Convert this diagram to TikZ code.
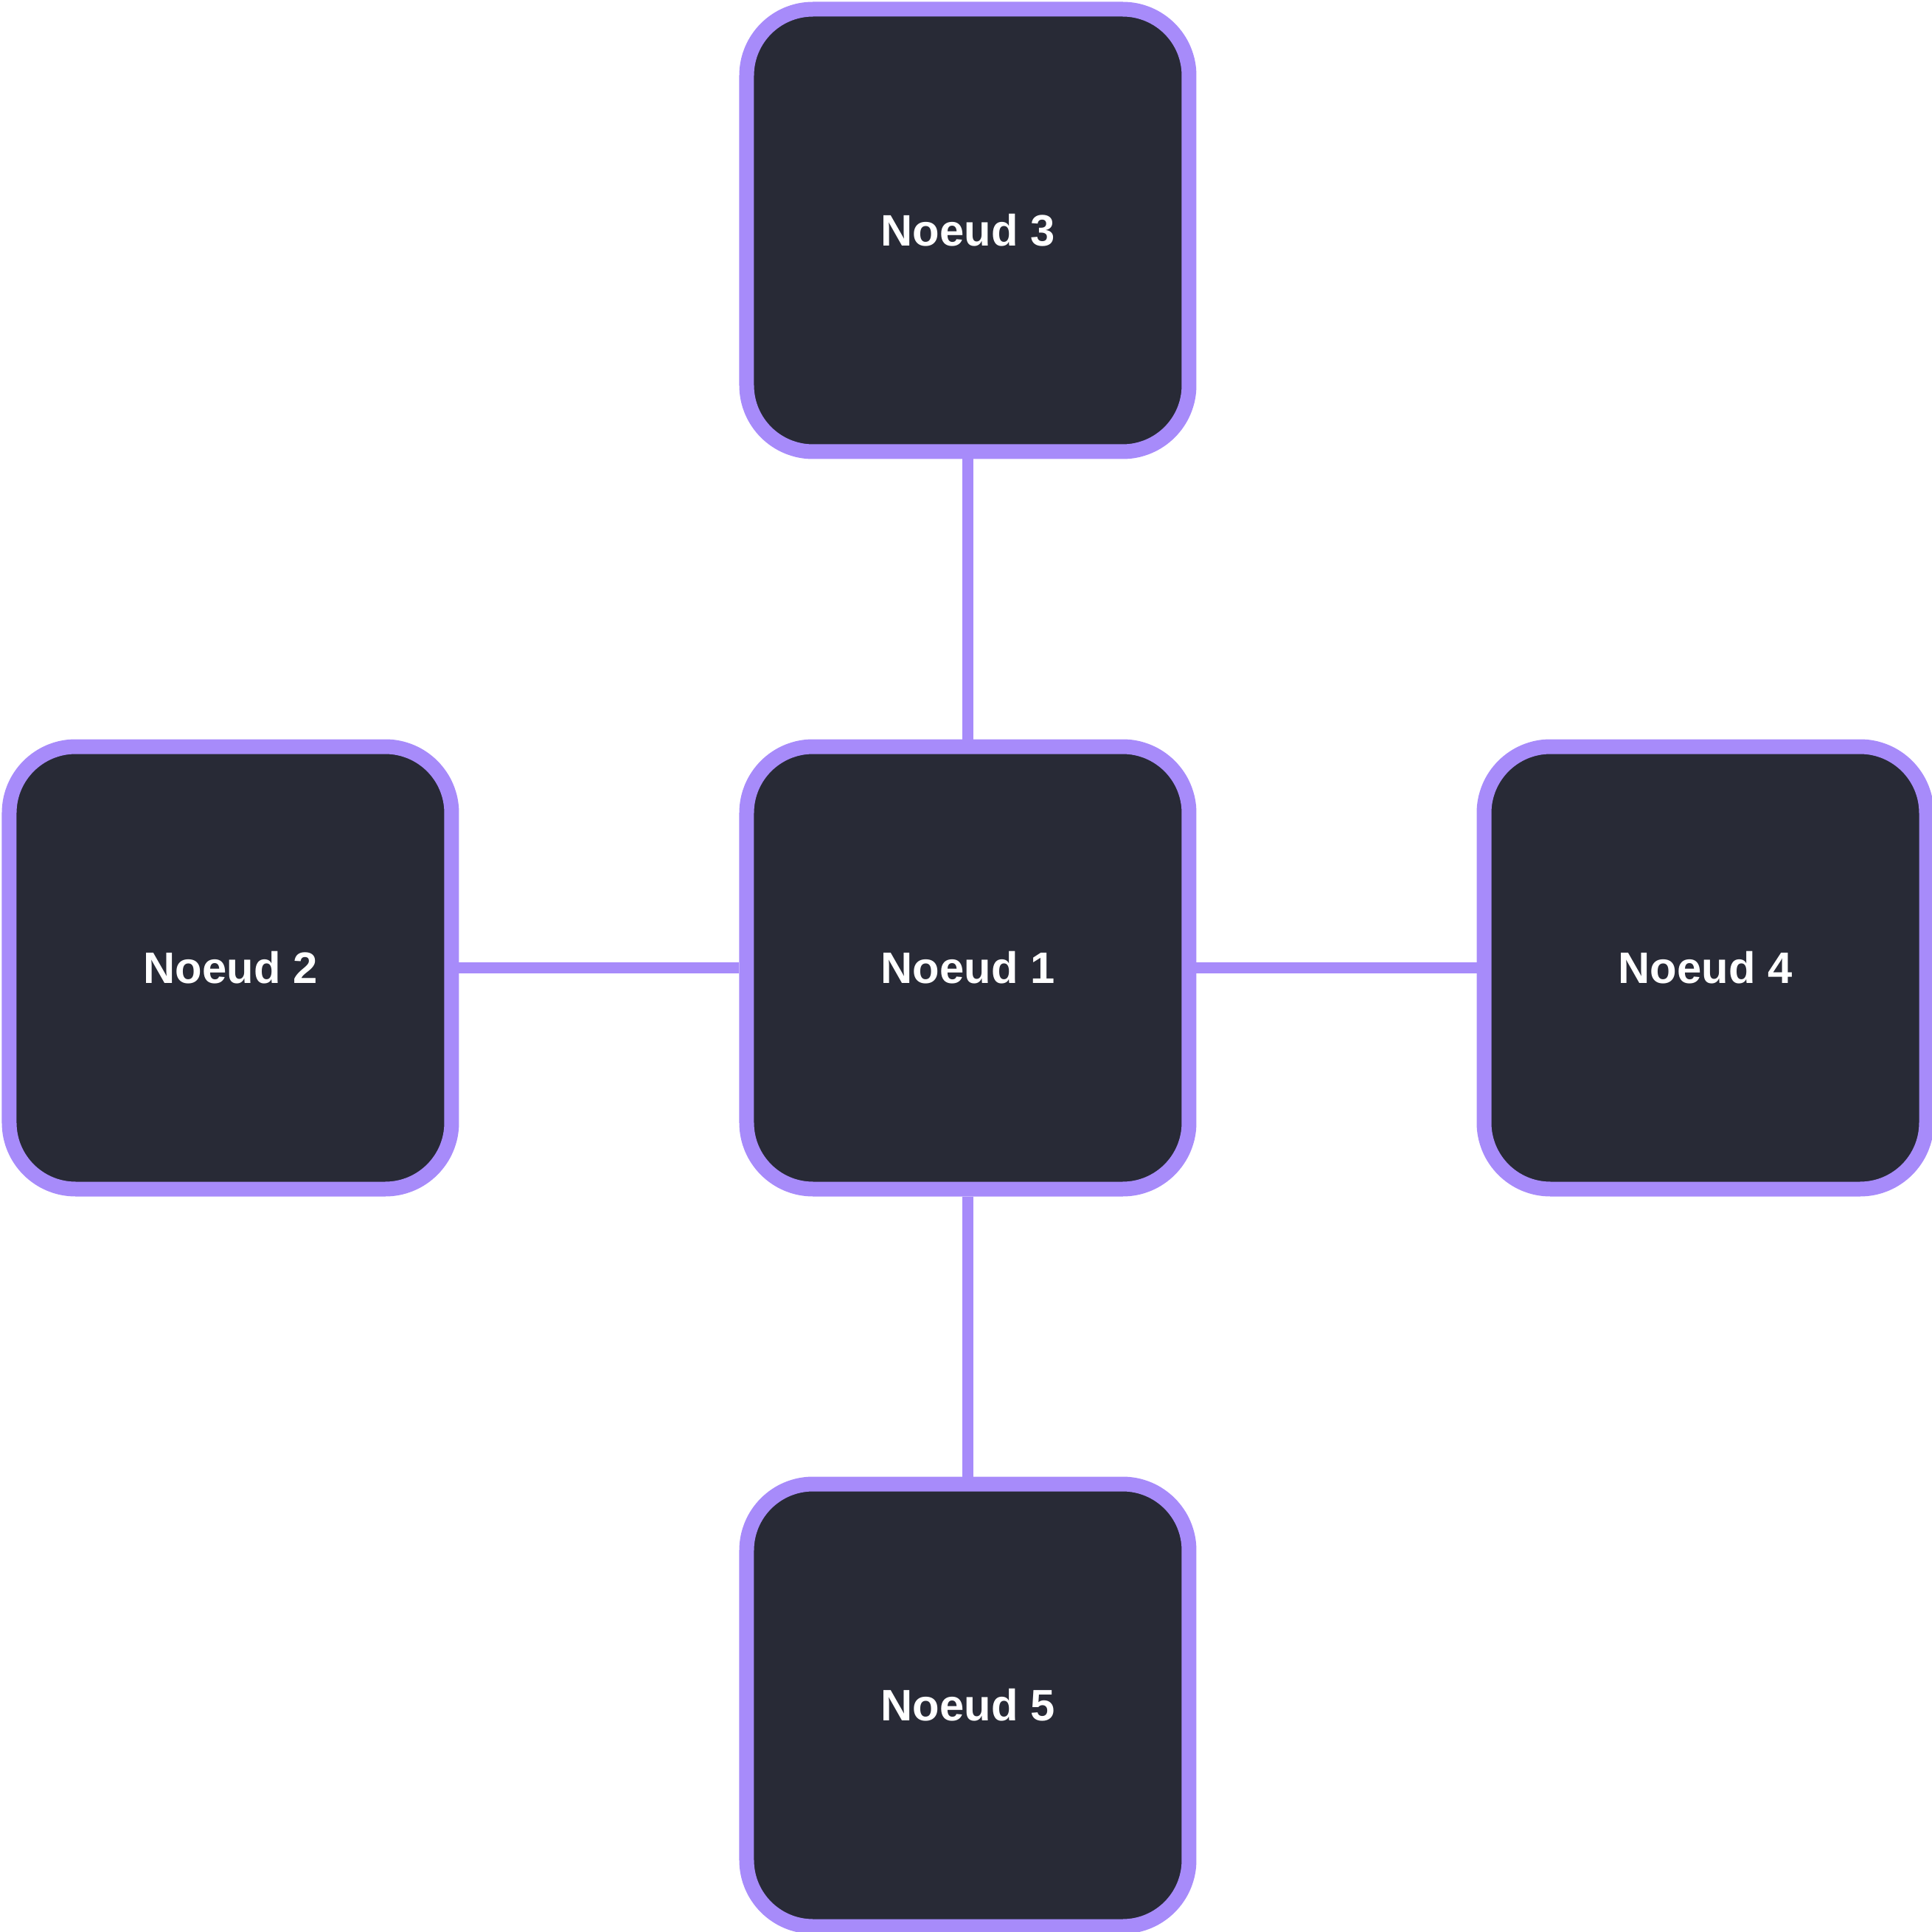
\documentclass[tikz,border=0pt]{standalone}
\usepackage{fontspec}
\setmainfont{Liberation Sans}
\usetikzlibrary{positioning}

\definecolor{nodeedge}{HTML}{A78BFA}
\definecolor{nodefill}{HTML}{282A36}

\begin{document}
\begin{tikzpicture}[
    node distance=3.8cm,
    noeud/.style={rectangle, draw=nodeedge, fill=nodefill, line width=0.2cm,
                  minimum width=6cm, minimum height=6cm, rounded corners=0.9cm,
                  text=white, font=\bfseries\fontsize{17}{20}\selectfont},
    link/.style={draw=nodeedge, line width=0.15cm},
]

\useasboundingbox (-13.125,-13.075) rectangle (13.075,13.125);

% Centre
\node[noeud] (n1) at (0,0) {Noeud 1};

% Voisins
\node[noeud, left=of n1] (n2) {Noeud 2};
\node[noeud, above=of n1] (n3) {Noeud 3};
\node[noeud, right=of n1] (n4) {Noeud 4};
\node[noeud, below=of n1] (n5) {Noeud 5};

% Liens
\draw[link] (n1) -- (n2);
\draw[link] (n1) -- (n3);
\draw[link] (n1) -- (n4);
\draw[link] (n1) -- (n5);

\end{tikzpicture}
\end{document}
